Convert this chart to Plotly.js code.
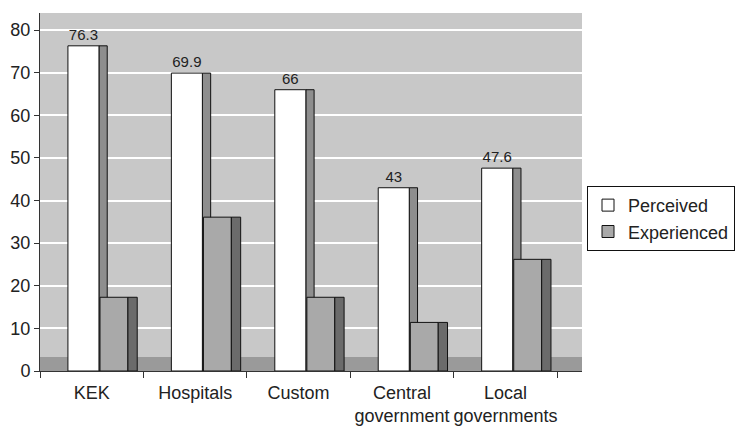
<!DOCTYPE html>
<html>
<head>
<meta charset="utf-8">
<script src="https://cdn.plot.ly/plotly-3.0.1.min.js"></script>
<style>html,body{margin:0;padding:0;background:#fff;}#chart{width:735px;height:427px;}</style>
</head>
<body>
<div id="chart"></div>
<script>
const categories = ["KEK", "Hospitals", "Custom", "Central<br>government", "Local<br>governments"];
const perceived = [76.3, 69.9, 66, 43, 47.6];
const experienced = [17.3, 36.1, 17.3, 11.4, 26.2];
const seriesNames = ["Perceived", "Experienced"];

const font = "Liberation Sans, Arial, sans-serif";
const edge = {color: "#111", width: 1};

const traces = [
  { type: "bar", x: categories, y: perceived, offset: 0.07, width: 0.08,
    marker: {color: "#8e8e8e", line: edge}, showlegend: false, hoverinfo: "skip" },
  { type: "bar", name: seriesNames[0], x: categories, y: perceived, offset: -0.23, width: 0.30,
    marker: {color: "#ffffff", line: edge},
    text: perceived.map(v => String(v)), textposition: "outside", cliponaxis: false,
    textfont: {family: font, size: 15, color: "#222"} },
  { type: "bar", name: seriesNames[1], x: categories, y: experienced, offset: 0.08, width: 0.27,
    marker: {color: "#a9a9a9", line: edge} },
  { type: "bar", x: categories, y: experienced, offset: 0.35, width: 0.09,
    marker: {color: "#6b6b6b", line: edge}, showlegend: false, hoverinfo: "skip" }
];

const layout = {
  width: 735, height: 427,
  margin: {l: 40, r: 153, t: 13, b: 56},
  paper_bgcolor: "#ffffff",
  plot_bgcolor: "#c8c8c8",
  barmode: "overlay",
  font: {family: font, size: 18, color: "#222"},
  xaxis: {
    type: "category", range: [-0.5, 4.74],
    showline: true, linecolor: "#333", linewidth: 1,
    ticks: "outside", tickson: "boundaries", ticklen: 6, tickcolor: "#333",
    tickangle: 0, automargin: false, ticklabelstandoff: 5,
    showgrid: false, tickfont: {family: font, size: 18, color: "#222"}
  },
  yaxis: {
    range: [0, 84], tickvals: [0,10,20,30,40,50,60,70,80],
    showline: true, linecolor: "#333", linewidth: 1,
    ticks: "outside", ticklen: 5, tickcolor: "#333",
    gridcolor: "#ffffff", gridwidth: 2, zeroline: false, automargin: false,
    tickfont: {family: font, size: 18, color: "#222"}
  },
  shapes: [
    {type: "rect", layer: "below", xref: "paper", yref: "y", x0: 0, x1: 1, y0: 0, y1: 3.3,
     fillcolor: "#9a9a9a", line: {width: 0}}
  ],
  legend: {
    x: 1.0, y: 0.517, xanchor: "right", yanchor: "top",
    xref: "container",
    bgcolor: "#ffffff", bordercolor: "#111", borderwidth: 1,
    font: {family: font, size: 18, color: "#222"}, tracegroupgap: 0, itemwidth: 30
  },
  showlegend: true
};

Plotly.newPlot("chart", traces, layout, {displayModeBar: false, staticPlot: true});
</script>
</body>
</html>
